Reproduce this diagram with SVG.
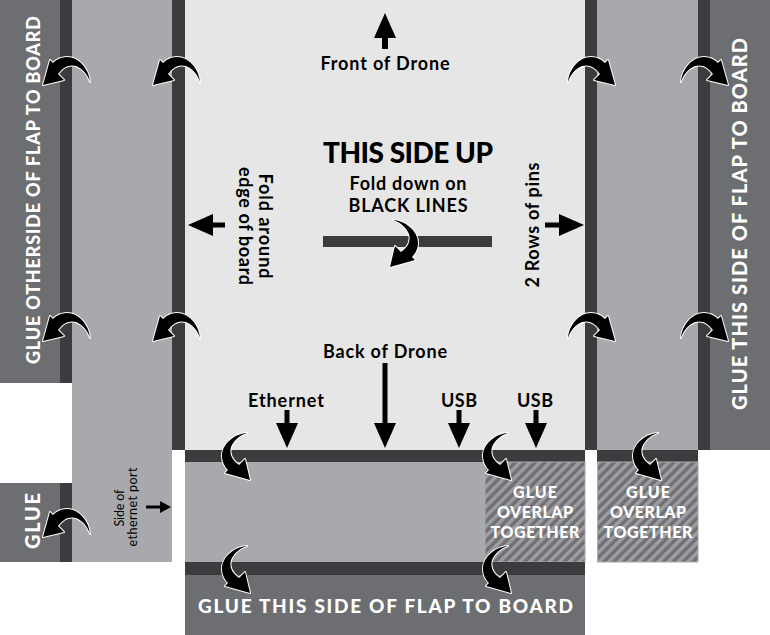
<svg xmlns="http://www.w3.org/2000/svg" width="770" height="635" viewBox="0 0 770 635">
<style>
.glue{fill:#6d6e71}
.fold{fill:#3c3c3e}
.flap{fill:#a7a9ac}
.top{fill:#e6e6e7}
.wt{fill:#fff;font-family:Lato,"Open Sans","Liberation Sans",sans-serif;font-weight:900}
.bt{fill:#000;font-family:Lato,"Open Sans","Liberation Sans",sans-serif;text-anchor:middle}
.sh{stroke:#000;fill:none}
.cv{fill:#000;stroke:#fff;stroke-width:2;paint-order:stroke;stroke-linejoin:round}
</style>
<defs>
<pattern id="hatch" patternUnits="userSpaceOnUse" width="7" height="7" patternTransform="rotate(45)">
<rect width="7" height="7" fill="#707074"/>
<rect width="3.5" height="7" fill="#9d9ea1"/>
</pattern>
<marker id="ah" viewBox="0 0 25 22" markerWidth="25" markerHeight="22" refX="1" refY="11" orient="auto" markerUnits="userSpaceOnUse">
<path d="M0,0 L25,11 L0,22 z" fill="#000"/>
</marker>
<marker id="ahs" viewBox="0 0 11 12" markerWidth="11" markerHeight="12" refX="1" refY="6" orient="auto" markerUnits="userSpaceOnUse">
<path d="M0,0 L11,6 L0,12 z" fill="#000"/>
</marker>
<path id="curl" class="cv" d="M47,25 C46,12 36,0 24,0 C18,0 13,3 10,6 L7,3 L0,28 L21,23 L15,17 C20,10 26,7 33,9 C40,12 45,18 47,25 Z"/>
</defs>

<g id="left-glue-flap">
<rect class="glue" x="0" y="0" width="60" height="383"/>
<rect class="fold" x="60" y="0" width="12" height="383"/>
<text class="wt" font-size="18" text-anchor="middle" textLength="348" transform="translate(40,190) rotate(-90)">GLUE OTHERSIDE OF FLAP TO BOARD</text>
</g>
<g id="left-small-glue">
<rect class="glue" x="0" y="483" width="60" height="79"/>
<rect class="fold" x="60" y="483" width="12" height="79"/>
<text class="wt" font-size="20" text-anchor="middle" textLength="56" transform="translate(40,521) rotate(-90)">GLUE</text>
</g>
<g id="left-flap">
<rect class="flap" x="72" y="0" width="100" height="562"/>
<rect class="fold" x="172" y="0" width="13" height="450"/>
<text class="bt" font-size="12.5" font-weight="400" textLength="37" transform="translate(124,508) rotate(-90)">Side of</text>
<text class="bt" font-size="12.5" font-weight="400" textLength="79" transform="translate(137,507) rotate(-90)">ethernet port</text>
</g>
<g id="board-top">
<rect class="top" x="185" y="0" width="400" height="450"/>
<text class="bt" x="385" y="70" font-size="18" font-weight="700" textLength="129">Front of Drone</text>
<text class="bt" x="408" y="163" font-size="28" font-weight="900" textLength="170">THIS SIDE UP</text>
<text class="bt" x="408" y="190" font-size="18" font-weight="700" textLength="117">Fold down on</text>
<text class="bt" x="408" y="212" font-size="18" font-weight="700" textLength="119">BLACK LINES</text>
<rect class="fold" x="323" y="236" width="169" height="11"/>
<text class="bt" font-size="18" font-weight="700" textLength="105" transform="translate(259,226) rotate(90)">Fold around</text>
<text class="bt" font-size="18" font-weight="700" textLength="118" transform="translate(239,226) rotate(90)">edge of board</text>
<text class="bt" font-size="18" font-weight="700" textLength="125" transform="translate(539,225) rotate(-90)">2 Rows of pins</text>
<text class="bt" x="385" y="358" font-size="18" font-weight="700" textLength="124">Back of Drone</text>
<text class="bt" x="286" y="407" font-size="18" font-weight="700" textLength="76">Ethernet</text>
<text class="bt" x="459" y="407" font-size="18" font-weight="700" textLength="36">USB</text>
<text class="bt" x="535" y="407" font-size="18" font-weight="700" textLength="36">USB</text>
</g>
<g id="right-flap">
<rect class="fold" x="585" y="0" width="12" height="450"/>
<rect class="flap" x="597" y="0" width="101" height="450"/>
<rect class="fold" x="597" y="450" width="101" height="12"/>
</g>
<g id="right-overlap">
<rect x="597.5" y="462" width="100.5" height="100" fill="url(#hatch)" stroke="#a9a9ac" stroke-width="1"/>
<text class="wt" font-size="16" text-anchor="middle" x="648" y="498" textLength="44">GLUE</text>
<text class="wt" font-size="16" text-anchor="middle" x="648" y="518" textLength="76">OVERLAP</text>
<text class="wt" font-size="16" text-anchor="middle" x="648" y="538" textLength="89">TOGETHER</text>
</g>
<g id="right-glue-flap">
<rect class="fold" x="698" y="0" width="12" height="450"/>
<rect class="glue" x="710" y="0" width="60" height="450"/>
<text class="wt" font-size="20" text-anchor="middle" textLength="372" transform="translate(747,224) rotate(-90)">GLUE THIS SIDE OF FLAP TO BOARD</text>
</g>
<g id="bottom-flap">
<rect class="fold" x="185" y="450" width="400" height="12"/>
<rect class="flap" x="185" y="462" width="300" height="100"/>
</g>
<g id="bottom-overlap">
<rect x="485" y="462" width="100" height="100" fill="url(#hatch)" stroke="#a9a9ac" stroke-width="1"/>
<text class="wt" font-size="16" text-anchor="middle" x="535" y="498" textLength="44">GLUE</text>
<text class="wt" font-size="16" text-anchor="middle" x="535" y="518" textLength="76">OVERLAP</text>
<text class="wt" font-size="16" text-anchor="middle" x="535" y="538" textLength="89">TOGETHER</text>
</g>
<g id="bottom-glue-flap">
<rect class="fold" x="185" y="562" width="400" height="13"/>
<rect class="glue" x="185" y="575" width="400" height="60"/>
<text class="wt" font-size="19" text-anchor="middle" textLength="375" x="385.5" y="613">GLUE THIS SIDE OF FLAP TO BOARD</text>
</g>

<g id="connectors">
<line class="sh" stroke-width="6" x1="385" y1="49" x2="385" y2="37" marker-end="url(#ah)"/>
<line class="sh" stroke-width="5" x1="225" y1="225" x2="212" y2="225" marker-end="url(#ah)"/>
<line class="sh" stroke-width="5" x1="545" y1="225" x2="560" y2="225" marker-end="url(#ah)"/>
<line class="sh" stroke-width="5" x1="385" y1="363" x2="385" y2="424" marker-end="url(#ah)"/>
<line class="sh" stroke-width="5" x1="287" y1="410" x2="287" y2="424" marker-end="url(#ah)"/>
<line class="sh" stroke-width="5" x1="459" y1="410" x2="459" y2="424" marker-end="url(#ah)"/>
<line class="sh" stroke-width="5" x1="536" y1="410" x2="536" y2="424" marker-end="url(#ah)"/>
<line class="sh" stroke-width="3" x1="146" y1="507" x2="161" y2="507" marker-end="url(#ahs)"/>
<use href="#curl" transform="translate(43,57)"/>
<use href="#curl" transform="translate(153,57)"/>
<use href="#curl" transform="translate(43,313)"/>
<use href="#curl" transform="translate(153,313)"/>
<use href="#curl" transform="translate(43,509)"/>
<use href="#curl" transform="translate(615,57) scale(-1,1)"/>
<use href="#curl" transform="translate(728,57) scale(-1,1)"/>
<use href="#curl" transform="translate(615,313) scale(-1,1)"/>
<use href="#curl" transform="translate(728,313) scale(-1,1)"/>
<use href="#curl" transform="translate(222,480) rotate(-90)"/>
<use href="#curl" transform="translate(222,593) rotate(-90)"/>
<use href="#curl" transform="translate(483,480) rotate(-90)"/>
<use href="#curl" transform="translate(483,593) rotate(-90)"/>
<use href="#curl" transform="translate(633,480) rotate(-90)"/>
<use href="#curl" transform="translate(418,267) scale(-1,1) rotate(-90)"/>
</g>
</svg>
